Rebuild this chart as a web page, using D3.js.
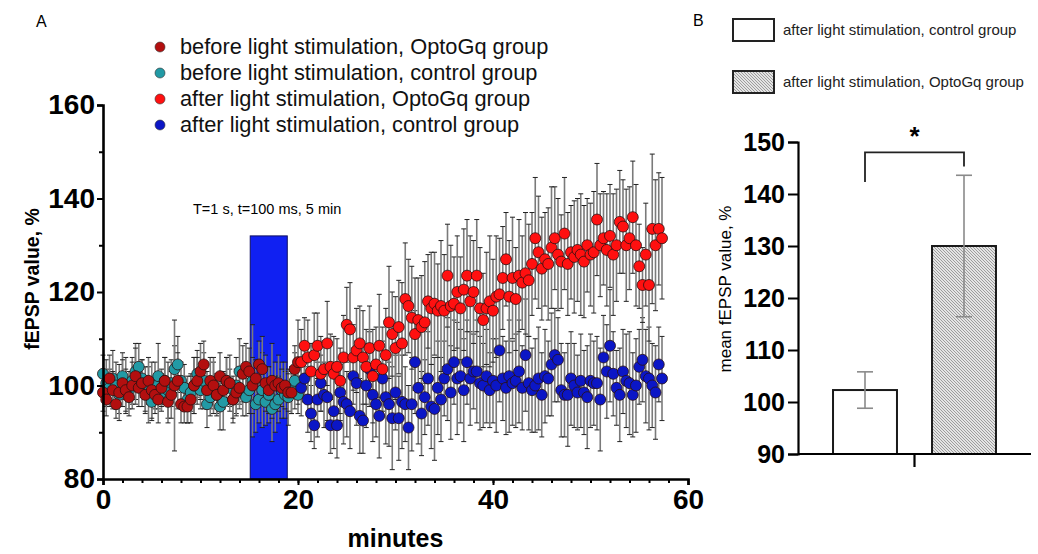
<!DOCTYPE html>
<html>
<head>
<meta charset="utf-8">
<script src="https://cdn.jsdelivr.net/npm/d3@7"></script>
<style>
  body { margin: 0; background: #fff; }
  svg { display: block; font-family: "Liberation Sans", Arial, sans-serif; }
</style>
</head>
<body>
<script>
const WIDTH = 1038;
const HEIGHT = 554;

// sampling: one sweep every 20 s
const STEP = 1 / 3;
const BEFORE_START = 0;
const AFTER_START = 20 + 1 / 3;

var beforeOpto = [98.5, 97, 101.5, 99, 96, 98.5, 100.5, 99, 97.5, 100, 102, 99.5, 100.5, 98, 101, 99, 98, 97, 99.5, 101,
    96.5, 98, 100, 101, 96, 95.5, 95.5, 97, 100, 101, 103, 104.5, 99, 101, 100, 98, 102, 99, 101, 100.5,
    97, 98.5, 99.5, 102.5, 104, 103, 100, 101.5, 104.5, 103.5, 100.5, 99, 101, 100, 100.5, 99.5, 100, 98.5, 98.5, 103.5, 105];
var beforeOptoErr = [4, 3.5, 5, 4, 3, 6, 5, 4.5, 4, 5, 6, 4, 5, 3.5, 5, 6, 4, 5, 4, 5,
    4.5, 5, 14, 6, 4, 3.5, 3.5, 5, 6, 5, 6, 5, 4, 5, 6, 4.5, 5, 4, 5, 6,
    4, 5, 4.5, 6, 5, 5, 6, 4, 5, 7, 6, 5, 8, 5, 6, 4, 5, 4, 4.5, 5, 9];

var beforeCtrl = [102.5, 100.5, 99.5, 101.5, 100, 98, 102, 100, 99, 101, 103, 104, 101.5, 99, 98, 96.5, 100, 102, 98.5, 101,
    99, 100.5, 103.5, 104.5, 101, 99.5, 97, 98.5, 100, 102.5, 99, 101, 96, 97.5, 100, 98, 95.5, 96.5, 101, 99.5,
    97, 100, 103, 98.5, 97.5, 99, 101, 96, 97, 99, 96.5, 98, 95, 96, 97, 99, 98, 97.5, 99, 101, 98];
var beforeCtrlErr = [4, 5, 4, 6, 5, 4, 5, 6, 4, 5, 6, 5, 4, 5, 6, 4, 5, 7, 4, 5,
    6, 5, 5, 6, 4, 5, 5, 4, 6, 5, 4, 6, 5, 4, 5, 4, 5, 6, 5, 4,
    5, 6, 7, 5, 4, 5, 12, 6, 5, 8, 5, 6, 7, 6, 5, 6, 5, 6, 5, 6, 4];

var afterOpto = [105, 108.5, 106, 103, 106.5, 108.5, 102.5, 103.5, 109, 104, 102.5, 104, 101, 106, 113, 112, 106, 107.5, 109, 106,
    104, 108, 102, 104.5, 108.5, 103.5, 106.5, 113.5, 111, 108, 112.5, 109, 118.5, 117, 114.5, 111, 114, 112.5, 113.5, 118,
    116.5, 117.5, 116, 117, 116, 123.5, 117, 117.5, 120, 116.5, 120.5, 123.5, 118, 120, 123.5, 116.5, 114, 116.5, 118, 116,
    119, 119.5, 123, 127, 119, 123, 118.5, 123.5, 122, 124, 122.5, 126, 131.5, 128.5, 125, 127, 126, 129.5, 131.5, 128,
    126.5, 132.5, 126, 128.5, 127.5, 129, 128, 126.5, 130, 128, 128.5, 135.5, 130, 131.5, 129, 132, 128, 130, 135, 134,
    130, 131.5, 136, 130, 125.5, 121.5, 128, 121.5, 133.5, 130, 133.5, 131.5];
var afterOptoErr = [7, 6, 8, 6, 9, 7, 8, 6, 9, 7, 8, 6, 7, 9, 8, 10, 7, 9, 8, 10,
    8, 9, 10, 8, 11, 9, 10, 12, 9, 11, 10, 13, 12, 10, 11, 12, 9, 11, 13, 10,
    12, 11, 10, 14, 12, 11, 13, 10, 12, 11, 13, 12, 14, 11, 12, 13, 10, 12, 14, 11,
    13, 12, 11, 10, 12, 13, 11, 12, 10, 13, 12, 11, 13, 12, 11, 10, 12, 13, 11, 12,
    10, 12, 11, 10, 12, 11, 13, 12, 10, 11, 13, 12, 11, 10, 12, 11, 13, 12, 11, 10,
    12, 11, 12, 13, 9, 8, 11, 12, 16, 14, 12, 13];

var afterCtrl = [99.5, 101.5, 97, 94, 91.5, 97, 100.5, 98, 97.5, 91.5, 94.5, 91.5, 98.5, 96.5, 96, 94.5, 102, 100.5, 93.5, 92.5,
    100, 103.5, 98, 96, 93.5, 101.5, 97.5, 96, 93, 98.5, 93, 96.5, 96, 91, 96, 105, 99.5, 94, 97.5, 101.5,
    95.5, 95, 99.5, 97, 101.5, 103.5, 98.5, 105, 101.5, 102, 99, 105, 101.5, 103, 103, 100.5, 100, 102, 99, 101,
    100, 107.5, 101.5, 99.5, 102, 100.5, 101, 103, 99.5, 106.5, 100.5, 99, 100, 101.5, 98, 102, 101.5, 104.5, 106.5, 105.5,
    99, 98, 98, 101.5, 100, 98.5, 101, 98.5, 97.5, 101, 100.5, 100.5, 97, 106, 103, 108.5, 102.5, 99.5, 98, 103,
    101, 100.5, 98, 100, 104, 105.5, 102, 101.5, 100, 98.5, 104.5, 101.5];
var afterCtrlErr = [6, 5, 7, 6, 5, 8, 6, 7, 5, 6, 8, 7, 6, 9, 7, 8, 6, 9, 8, 7,
    9, 8, 10, 7, 9, 8, 10, 9, 11, 8, 9, 10, 8, 9, 10, 11, 12, 9, 8, 10,
    9, 11, 10, 9, 8, 11, 10, 9, 12, 10, 11, 9, 10, 8, 11, 10, 9, 10, 8, 9,
    10, 11, 9, 10, 12, 9, 10, 11, 9, 12, 10, 9, 10, 11, 9, 10, 8, 11, 10, 9,
    10, 9, 11, 10, 9, 8, 10, 9, 11, 10, 9, 10, 11, 9, 10, 12, 9, 8, 10, 9,
    10, 11, 9, 10, 8, 9, 10, 11, 9, 10, 8, 9];

var stimWindow = [15.1, 18.9];
var stimTop = 132;

var barGroups = ['after light stimulation, control group', 'after light stimulation, OptoGq group'];
var barMeans = [102.3, 130];
var barErr = [3.5, 13.6];

var xTicksA = [0, 20, 40, 60];
var yTicksA = [80, 100, 120, 140, 160];
var yTicksB = [90, 100, 110, 120, 130, 140, 150];

var legendA = [
    { label: 'before light stimulation, OptoGq group', color: '#b30f0f' },
    { label: 'before light stimulation, control group', color: '#229aa5' },
    { label: 'after light stimulation, OptoGq group', color: '#ff1010' },
    { label: 'after light stimulation, control group', color: '#0b16c6' }
];

var toPoints = function (values, errs, start) {
    return values.map(function (v, i) {
        return { t: start + i * STEP, v: v, e: errs[i] };
    });
};

var svg = d3.select('body').append('svg')
    .attr('width', WIDTH)
    .attr('height', HEIGHT);

// ---------- panel A ----------
var xA = d3.scaleLinear().domain([0, 60]).range([103, 688]);
var yA = d3.scaleLinear().domain([80, 160]).range([479, 105]);

svg.append('text').attr('x', 36).attr('y', 27).attr('font-size', 16).text('A');

svg.append('rect')
    .attr('x', xA(stimWindow[0]))
    .attr('y', yA(stimTop))
    .attr('width', xA(stimWindow[1]) - xA(stimWindow[0]))
    .attr('height', yA(80) - yA(stimTop))
    .attr('fill', '#1020f2')
    .attr('stroke', '#101060')
    .attr('stroke-width', 1);

svg.append('text')
    .attr('x', 193).attr('y', 214)
    .attr('font-size', 14.5)
    .text('T=1 s, t=100 ms, 5 min');

var series = [
    { pts: toPoints(beforeCtrl, beforeCtrlErr, BEFORE_START), color: legendA[1].color },
    { pts: toPoints(beforeOpto, beforeOptoErr, BEFORE_START), color: legendA[0].color },
    { pts: toPoints(afterCtrl, afterCtrlErr, AFTER_START), color: legendA[3].color },
    { pts: toPoints(afterOpto, afterOptoErr, AFTER_START), color: legendA[2].color }
];

var errLayer = svg.append('g');
series.forEach(function (s) {
    var g = errLayer.append('g');
    g.selectAll('line.stem').data(s.pts).enter().append('line')
        .attr('x1', function (d) { return xA(d.t); })
        .attr('x2', function (d) { return xA(d.t); })
        .attr('y1', function (d) { return yA(d.v - d.e); })
        .attr('y2', function (d) { return yA(d.v + d.e); })
        .attr('stroke', '#7a7a7a')
        .attr('stroke-width', 1.6);
    [-1, 1].forEach(function (sign) {
        g.selectAll(null).data(s.pts).enter().append('line')
            .attr('x1', function (d) { return xA(d.t) - 2.5; })
            .attr('x2', function (d) { return xA(d.t) + 2.5; })
            .attr('y1', function (d) { return yA(d.v + sign * d.e); })
            .attr('y2', function (d) { return yA(d.v + sign * d.e); })
            .attr('stroke', '#222')
            .attr('stroke-width', 1);
    });
});

series.forEach(function (s) {
    svg.append('g').selectAll('circle').data(s.pts).enter().append('circle')
        .attr('cx', function (d) { return xA(d.t); })
        .attr('cy', function (d) { return yA(d.v); })
        .attr('r', 5.5)
        .attr('fill', s.color)
        .attr('stroke', '#2a1010')
        .attr('stroke-width', 0.8);
});

// axes A
var xAxisA = svg.append('g')
    .attr('transform', 'translate(0,' + yA(80) + ')')
    .call(d3.axisBottom(xA).tickValues(xTicksA).tickSize(6).tickPadding(4));
svg.append('g')
    .attr('transform', 'translate(0,' + yA(80) + ')')
    .call(d3.axisBottom(xA).tickValues(d3.range(2, 60, 2)).tickSize(4).tickFormat(''))
    .call(function (g) { g.select('.domain').remove(); });
var yAxisA = svg.append('g')
    .attr('transform', 'translate(' + xA(0) + ',0)')
    .call(d3.axisLeft(yA).tickValues(yTicksA).tickSize(6).tickPadding(2));
svg.append('g')
    .attr('transform', 'translate(' + xA(0) + ',0)')
    .call(d3.axisLeft(yA).tickValues([90, 110, 130, 150]).tickSize(4).tickFormat(''))
    .call(function (g) { g.select('.domain').remove(); });

[xAxisA, yAxisA].forEach(function (ax) {
    ax.select('.domain').attr('stroke', '#000').attr('stroke-width', 2.6);
    ax.selectAll('.tick text')
        .attr('font-size', 28)
        .attr('font-weight', 'bold')
        .attr('fill', '#000')
        .attr('font-family', '"Liberation Sans", Arial, sans-serif');
});
svg.selectAll('.tick line').attr('stroke', '#000').attr('stroke-width', 2);

svg.append('text')
    .attr('x', xA(30)).attr('y', 547)
    .attr('text-anchor', 'middle')
    .attr('font-size', 25)
    .attr('font-weight', 'bold')
    .text('minutes');

svg.append('text')
    .attr('transform', 'translate(39,279) rotate(-90)')
    .attr('text-anchor', 'middle')
    .attr('font-size', 19.5)
    .attr('font-weight', 'bold')
    .text('fEPSP value, %');

// legend A
var legA = svg.append('g');
legendA.forEach(function (d, i) {
    var y = 47 + i * 26;
    legA.append('circle').attr('cx', 160).attr('cy', y).attr('r', 5)
        .attr('fill', d.color).attr('stroke', '#333').attr('stroke-width', 0.6);
    legA.append('text').attr('x', 180).attr('y', y + 7)
        .attr('font-size', 21.8).attr('fill', '#111').text(d.label);
});

// ---------- panel B ----------
var xB = d3.scaleBand().domain(barGroups).range([815.5, 1013.5]).paddingInner(0.354).paddingOuter(0.177);
var yB = d3.scaleLinear().domain([90, 150]).range([454, 142]);

var defs = svg.append('defs');
var pat = defs.append('pattern')
    .attr('id', 'hatch')
    .attr('patternUnits', 'userSpaceOnUse')
    .attr('width', 3).attr('height', 3);
pat.append('rect').attr('width', 3).attr('height', 3).attr('fill', '#e4e4e4');
pat.append('path').attr('d', 'M-1,-1 L4,4').attr('stroke', '#8c8c8c').attr('stroke-width', 0.8);

svg.append('text').attr('x', 693).attr('y', 26).attr('font-size', 16).text('B');

barGroups.forEach(function (name, i) {
    var y = 19 + i * 52;
    svg.append('rect').attr('x', 733).attr('y', y).attr('width', 41).attr('height', 22)
        .attr('fill', i === 0 ? '#fff' : 'url(#hatch)')
        .attr('stroke', '#222').attr('stroke-width', 2);
    svg.append('text').attr('x', 783).attr('y', y + 16)
        .attr('font-size', 15).attr('fill', '#222').text(name);
});

svg.append('g').selectAll('rect').data(barGroups).enter().append('rect')
    .attr('x', function (d) { return xB(d); })
    .attr('y', function (d, i) { return yB(barMeans[i]); })
    .attr('width', xB.bandwidth())
    .attr('height', function (d, i) { return yB(90) - yB(barMeans[i]); })
    .attr('fill', function (d, i) { return i === 0 ? '#fff' : 'url(#hatch)'; })
    .attr('stroke', '#1a1a1a')
    .attr('stroke-width', 2);

var errB = svg.append('g').attr('stroke', '#8a8a8a').attr('stroke-width', 1.6);
barGroups.forEach(function (d, i) {
    var cx = xB(d) + xB.bandwidth() / 2;
    var lo = yB(barMeans[i] - barErr[i]);
    var hi = yB(barMeans[i] + barErr[i]);
    errB.append('line').attr('x1', cx).attr('x2', cx).attr('y1', lo).attr('y2', hi);
    errB.append('line').attr('x1', cx - 8).attr('x2', cx + 8).attr('y1', lo).attr('y2', lo);
    errB.append('line').attr('x1', cx - 8).attr('x2', cx + 8).attr('y1', hi).attr('y2', hi);
});

// significance bracket
var bx1 = xB(barGroups[0]) + xB.bandwidth() / 2;
var bx2 = xB(barGroups[1]) + xB.bandwidth() / 2;
svg.append('path')
    .attr('d', 'M' + bx1 + ',' + yB(142.3) + 'V' + yB(148) + 'H' + bx2 + 'V' + yB(145.3))
    .attr('fill', 'none').attr('stroke', '#222').attr('stroke-width', 1.8);
svg.append('text')
    .attr('x', (bx1 + bx2) / 2).attr('y', 145)
    .attr('text-anchor', 'middle')
    .attr('font-size', 26).attr('font-weight', 'bold')
    .text('*');

var yAxisB = svg.append('g')
    .attr('transform', 'translate(798,0)')
    .call(d3.axisLeft(yB).tickValues(yTicksB).tickSize(10).tickPadding(3));
yAxisB.select('.domain').attr('stroke', '#000').attr('stroke-width', 2.2);
yAxisB.selectAll('.tick line').attr('stroke', '#000').attr('stroke-width', 2);
yAxisB.selectAll('.tick text')
    .attr('font-size', 25).attr('font-weight', 'bold').attr('fill', '#000')
    .attr('font-family', '"Liberation Sans", Arial, sans-serif');

svg.append('line')
    .attr('x1', 798).attr('x2', 1031)
    .attr('y1', yB(90)).attr('y2', yB(90))
    .attr('stroke', '#000').attr('stroke-width', 2.2);
svg.append('line')
    .attr('x1', (bx1 + bx2) / 2).attr('x2', (bx1 + bx2) / 2)
    .attr('y1', yB(90)).attr('y2', yB(90) + 13)
    .attr('stroke', '#000').attr('stroke-width', 2.2);

svg.append('text')
    .attr('transform', 'translate(731,289) rotate(-90)')
    .attr('text-anchor', 'middle')
    .attr('font-size', 17)
    .attr('fill', '#000')
    .text('mean fEPSP value, %');
</script>
</body>
</html>
